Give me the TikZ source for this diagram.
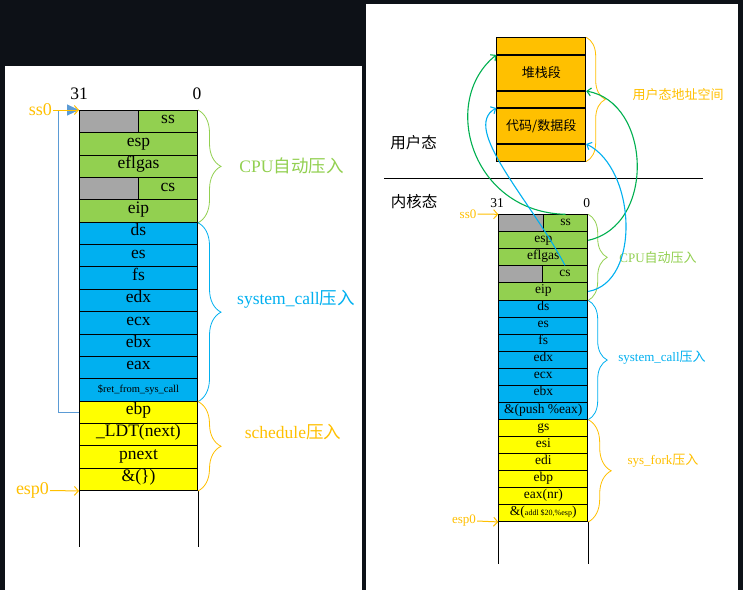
\documentclass[tikz,border=0pt]{standalone}
\usepackage{fontspec}
\setmainfont{Liberation Serif}
\newfontfamily\cjk{Noto Sans CJK SC}
\usetikzlibrary{
	arrows.meta,
	decorations.pathreplacing,
	positioning,
	calc
}
\definecolor{bgdark}{HTML}{0D1117}
\definecolor{cpugreen}{HTML}{92D050}
\definecolor{sysblue}{HTML}{00B0F0}
\definecolor{yelfill}{HTML}{FFFF00}
\definecolor{usrorange}{HTML}{FFC000}
\definecolor{graycell}{HTML}{A6A6A6}
\definecolor{curvegreen}{HTML}{00B050}
\definecolor{steelblue}{HTML}{5B9BD5}
\newcommand{\bigtxt}{\fontsize{17.5}{20}\selectfont}
\newcommand{\midtxt}{\fontsize{13.5}{15}\selectfont}
\tikzset{
	lrow/.style={draw=black, line width=1pt, minimum width=118pt, minimum height=22.35pt, inner sep=0pt, text height=0.66em, text depth=0.2em, font=\bigtxt, anchor=north west},
	rrow/.style={draw=black, line width=0.9pt, minimum width=89pt, minimum height=17.04pt, inner sep=0pt, text height=0.66em, text depth=0.2em, font=\midtxt, anchor=north west},
	ublock/.style={draw=black, line width=0.9pt, fill=usrorange, minimum width=89pt, inner sep=0pt, font=\cjk\fontsize{13}{15}\selectfont},
	bigbrace/.style={decorate, decoration={brace, amplitude=23pt}, line width=0.8pt},
	smallbrace/.style={decorate, decoration={brace, amplitude=19pt}, line width=0.8pt},
	ptrarrow/.style={draw=usrorange, line width=1pt, -{Straight Barb[length=4pt, width=9pt]}},
	curvegr/.style={draw=curvegreen, line width=1.1pt, -{Straight Barb[length=4pt, width=8pt]}},
	curvebl/.style={draw=sysblue, line width=1.1pt, -{Straight Barb[length=4pt, width=8pt]}},
	tag/.style={inner sep=1pt}
}
\begin{document}
\begin{tikzpicture}[x=1pt, y=-1pt]
	\useasboundingbox (0,0) rectangle (743,590);
	\fill[bgdark] (0,0) rectangle (743,590);
	\fill[white] (5,66) rectangle (362,590);
	\fill[white] (366,4) rectangle (738,590);

	% left stack
	\foreach \txt/\col [count=\i] in {{}/cpugreen, esp/cpugreen, eflgas/cpugreen, {}/cpugreen, eip/cpugreen, ds/sysblue, es/sysblue, fs/sysblue, edx/sysblue, ecx/sysblue, ebx/sysblue, eax/sysblue, {\fontsize{10.5}{12}\selectfont\$ret\_from\_sys\_call}/sysblue, ebp/yelfill, \_LDT(next)/yelfill, pnext/yelfill, {\&(\})}/yelfill}
		\node[lrow, fill=\col] (l\i) at (79, {110+(\i-1)*22.35}) {\txt};
	\node[lrow, fill=graycell, minimum width=59pt] (l1g) at (l1.north west) {};
	\node[lrow, fill=cpugreen, minimum width=59pt, anchor=north east] (l1v) at (l1.north east) {ss};
	\node[lrow, fill=graycell, minimum width=59pt] (l4g) at (l4.north west) {};
	\node[lrow, fill=cpugreen, minimum width=59pt, anchor=north east] (l4v) at (l4.north east) {cs};
	\draw[line width=1pt] (l17.south west) -- ++(0,56);
	\draw[line width=1pt] (l17.south east) -- ++(0,56);
	\node[font=\bigtxt] (l31) at (79,94) {31};
	\node[font=\bigtxt] (l0) at (197,94) {0};

	\node[tag, font=\fontsize{18}{20}\selectfont, text=usrorange] (lss0) at (40.5,110) {ss0};
	\node[tag, font=\fontsize{18}{20}\selectfont, text=usrorange] (lesp0) at (32.5,490.5) {esp0};
	\draw[steelblue, line width=1pt, -{Triangle[length=12pt, width=11pt]}] (l14.west) -- ++(-20.5,0) |- (l1.north west);
	\draw[ptrarrow] (lss0.east) -- (l1.north west);
	\draw[ptrarrow] (lesp0.east) -- (l17.south west);

	\draw[bigbrace, cpugreen] (l1.north east) -- (l5.south east);
	\draw[bigbrace, sysblue] (l5.south east) -- (l13.south east);
	\draw[bigbrace, usrorange] (l13.south east) -- (l17.south east);
	\node[font=\bigtxt, text=cpugreen] (lcpu) at (291.5,166) {CPU{\cjk 自动压入}};
	\node[font=\bigtxt, text=sysblue] (lsys) at (296,299) {system\_call{\cjk 压入}};
	\node[font=\bigtxt, text=usrorange] (lsch) at (293,432) {schedule{\cjk 压入}};

	% user space
	\node[ublock, minimum height=16.7pt, anchor=north west] (u1) at (496.3,37.3) {};
	\node[ublock, minimum height=35.3pt, below=0pt of u1] (u2) {堆栈段};
	\node[ublock, minimum height=16pt, below=0pt of u2] (u3) {};
	\node[ublock, minimum height=35pt, below=0pt of u3] (u4) {代码/数据段};
	\node[ublock, minimum height=16.7pt, below=0pt of u4] (u5) {};
	\draw[smallbrace, usrorange] (u1.north east) -- (u5.south east);
	\node[font=\cjk\fontsize{13}{15}\selectfont, text=usrorange] (uaddr) at (678,95) {用户态地址空间};

	\node[font=\cjk\fontsize{15.5}{17}\selectfont] (user) at (413.5,143) {用户态};
	\draw[line width=1.2pt] (384,178.3) -- (703,178.3);
	\node[font=\cjk\fontsize{15.5}{17}\selectfont] (kern) at (414,202) {内核态};

	% kernel stack
	\foreach \txt/\col [count=\i] in {{}/cpugreen, esp/cpugreen, eflgas/cpugreen, {}/cpugreen, eip/cpugreen, ds/sysblue, es/sysblue, fs/sysblue, edx/sysblue, ecx/sysblue, ebx/sysblue, {\&(push \%eax)}/sysblue, gs/yelfill, esi/yelfill, edi/yelfill, ebp/yelfill, eax(nr)/yelfill, {\&({\fontsize{8}{9}\selectfont addl \$20,\%esp})}/yelfill}
		\node[rrow, fill=\col] (r\i) at (498.3, {214.3+(\i-1)*17.04}) {\txt};
	\node[rrow, fill=graycell, minimum width=44.5pt] (r1g) at (r1.north west) {};
	\node[rrow, fill=cpugreen, minimum width=44.5pt, anchor=north east] (r1v) at (r1.north east) {ss};
	\node[rrow, fill=graycell, minimum width=43.5pt] (r4g) at (r4.north west) {};
	\node[rrow, fill=cpugreen, minimum width=45.5pt, anchor=north east] (r4v) at (r4.north east) {cs};
	\draw[line width=0.9pt] (r18.south west) -- ++(0,42);
	\draw[line width=0.9pt] (r18.south east) -- ++(0,42);
	\node[font=\midtxt] (r31) at (497,203) {31};
	\node[font=\midtxt] (r0) at (586.7,203) {0};

	\node[tag, font=\fontsize{13}{15}\selectfont, text=usrorange] (rss0) at (468,214) {ss0};
	\node[tag, font=\fontsize{13}{15}\selectfont, text=usrorange] (resp0) at (464,521) {esp0};
	\draw[ptrarrow] (rss0.east) -- (r1.north west);
	\draw[ptrarrow] (resp0.east) -- (r18.south west);

	\draw[smallbrace, cpugreen] (r1.north east) -- (r5.south east);
	\draw[smallbrace, sysblue] (r5.south east) -- (r12.south east);
	\draw[bigbrace, usrorange] (r12.south east) -- (r18.south east);
	\node[font=\fontsize{13}{15}\selectfont, text=cpugreen] (rcpu) at (658,258) {CPU{\cjk 自动压入}};
	\node[font=\fontsize{13}{15}\selectfont, text=sysblue] (rsys) at (662,358) {system\_call{\cjk 压入}};
	\node[font=\fontsize{13}{15}\selectfont, text=usrorange] (rfork) at (663,461) {sys\_fork{\cjk 压入}};

	\draw[curvegr] (r1v.north) .. controls +(-94,-2) and +(-57,46) .. (u2.north west);
	\draw[curvegr] (r2.east) .. controls +(68,-15) and +(65,11) .. (u3.north east);
	\draw[curvebl] (r4v.north) .. controls +(-34,-65) and +(-36,20) .. (u4.north west);
	\draw[curvebl] (r5.east) .. controls +(53,-9) and +(50,25) .. (u5.north east);
\end{tikzpicture}
\end{document}
